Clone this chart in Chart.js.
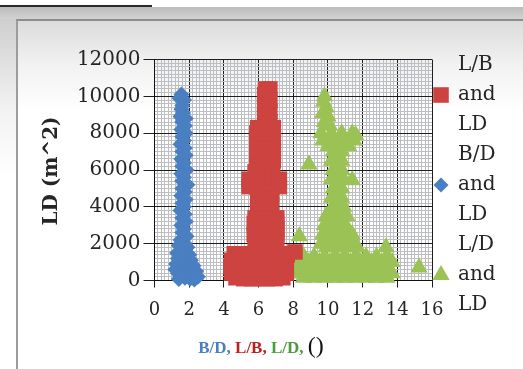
<!DOCTYPE html>
<html>
<head>
<meta charset="utf-8">
<script src="https://cdn.jsdelivr.net/npm/chart.js@4/dist/chart.umd.min.js"></script>
<style>
  html, body { margin: 0; padding: 0; width: 523px; height: 369px; overflow: hidden; background: #fff; position: relative; }
  #band  { position: absolute; left: 0; top: 7px; width: 523px; height: 12px; background: linear-gradient(#bcbcbc, #d2d2d2); }
  #rule  { position: absolute; left: 0; top: 5px; width: 152px; height: 2px; background: #2a2a2a; }
  #side  { position: absolute; left: 0; top: 19px; width: 16px; height: 350px; background: linear-gradient(#cfcfcf, #f2f2f2 90px, #fff 160px); }
  #frame { position: absolute; left: 16px; top: 19px; width: 520px; height: 360px; border-left: 2px solid #9c9c9c; border-top: 2px solid #8c8c8c; background: linear-gradient(#dcdcdc, #f2f2f2 45px, #fff 90px); }
  canvas { position: absolute; left: 0; top: 0; }
</style>
</head>
<body>
<div id="band"></div><div id="rule"></div><div id="side"></div><div id="frame"></div>
<canvas id="c" width="523" height="369"></canvas>
<script>
// L/B ratio against LD
const lbX = [6.4, 6.65, 6.35, 6.6, 6.4, 6.65, 6.35, 6.6, 6.4, 6.65, 6.35, 6.6, 6.4, 6.65,
             5.95, 6.4, 6.85, 5.9, 6.35, 6.8, 5.95, 6.4, 6.85, 5.9, 6.35, 6.8, 5.95, 6.4, 6.85,
             5.9, 6.35, 6.8, 5.95, 6.4, 6.85, 5.9, 6.35, 6.8, 5.8, 6.3, 6.8,
             5.45, 5.9, 6.35, 6.8, 7.2, 5.45, 5.9, 6.35, 6.8, 7.2,
             6.0, 6.4, 6.75, 5.95, 6.35, 6.7, 6.0, 6.4, 6.75, 5.95, 6.35, 6.7,
             5.8, 6.25, 6.7, 7.05, 5.75, 6.2, 6.65, 7.05, 5.8, 6.25, 6.7, 7.05, 5.75, 6.2, 6.65, 7.05, 5.8, 6.25, 6.7, 7.05,
             4.6, 5.05, 5.5, 5.95, 6.4, 6.85, 7.3, 7.65,
             4.45, 4.9, 5.35, 5.8, 6.25, 6.7, 7.15, 7.6,
             4.4, 4.85, 5.3, 5.75, 6.2, 6.65, 7.1, 7.55,
             4.45, 4.9, 5.35, 5.8, 6.25, 6.7, 7.15, 7.6,
             4.7, 5.15, 5.6, 6.05, 6.5, 6.95, 7.4, 8.1];
const lbY = [10400, 10400, 10100, 10100, 9800, 9800, 9500, 9500, 9200, 9200, 8900, 8900, 8600, 8600,
             8300, 8300, 8300, 8000, 8000, 8000, 7700, 7700, 7700, 7400, 7400, 7400, 7100, 7100, 7100,
             6800, 6800, 6800, 6500, 6500, 6500, 6200, 6200, 6200, 5900, 5900, 5900,
             5500, 5500, 5500, 5500, 5500, 5100, 5100, 5100, 5100, 5100,
             4700, 4700, 4700, 4400, 4400, 4400, 4100, 4100, 4100, 3800, 3800, 3800,
             3400, 3400, 3400, 3400, 3100, 3100, 3100, 3100, 2800, 2800, 2800, 2800, 2500, 2500, 2500, 2500, 2200, 2200, 2200, 2200,
             1450, 1450, 1450, 1450, 1450, 1450, 1450, 1400,
             1100, 1100, 1100, 1100, 1100, 1100, 1100, 1100,
             750, 750, 750, 750, 750, 750, 750, 750,
             400, 400, 400, 400, 400, 400, 400, 400,
             150, 100, 100, 100, 100, 100, 150, 1550];

// B/D ratio against LD
const bdX = [1.55, 1.45, 1.7, 1.6, 1.55, 1.65, 1.5, 1.8, 1.6, 1.75, 1.55, 1.8, 1.6, 1.7, 1.5, 1.75, 1.6, 1.8, 1.55, 1.7,
             1.6, 1.85, 1.55, 1.7, 1.6, 1.9, 1.6, 1.75, 1.55, 1.8, 1.6, 1.7, 1.5, 1.75, 1.6, 1.8, 1.55, 1.7, 1.6, 1.85,
             1.5, 1.75, 1.4, 1.9, 1.55, 1.3, 2.0, 1.7, 1.35, 2.1, 1.6, 1.25, 1.9, 2.25, 1.5, 1.2, 2.0, 2.4, 1.7, 1.35,
             2.2, 1.9, 1.5, 2.5, 1.75, 2.05, 1.4, 2.3];
const bdY = [10100, 9900, 9800, 9500, 9300, 9100, 8900, 8800, 8600, 8400, 8200, 8000, 7800, 7600, 7400, 7200, 7000, 6800, 6600, 6400,
             6200, 6000, 5800, 5600, 5400, 5200, 5000, 4800, 4600, 4400, 4200, 4000, 3800, 3600, 3400, 3200, 3000, 2800, 2600, 2400,
             2200, 2000, 1900, 1800, 1600, 1500, 1400, 1300, 1200, 1100, 1000, 900, 850, 800, 700, 600, 600, 500, 450, 400,
             300, 300, 250, 200, 150, 100, 80, 50];

// L/D ratio against LD
const ldX = [9.8, 9.75, 9.9, 9.7, 10.0, 9.8, 10.1,
             9.6, 10.2, 10.8, 11.4, 9.7, 10.3, 10.9, 11.5, 10.0, 10.6, 11.2, 11.6,
             10.3, 10.8, 10.4, 10.2, 10.8, 8.9, 10.5, 10.3, 10.8, 10.5, 10.2, 10.9, 11.4, 10.5, 10.3, 10.8, 10.5,
             10.2, 10.8, 10.5, 10.3, 10.9, 10.1, 10.6, 9.9, 10.5, 11.1, 10.2, 10.8,
             9.8, 10.4, 11.0, 10.0, 10.6, 11.2, 9.7, 10.3, 10.9, 11.4, 9.9, 10.5, 11.1, 8.35,
             9.6, 10.2, 10.8, 11.4, 9.9, 10.5, 11.1, 11.7, 13.35,
             8.0, 8.6, 9.2, 9.8, 10.4, 11.0, 11.6, 12.2, 12.8, 13.4,
             7.7, 8.3, 8.9, 9.5, 10.1, 10.7, 11.3, 11.9, 12.5, 13.1, 13.7,
             8.0, 8.6, 9.2, 9.8, 10.4, 11.0, 11.6, 12.2, 12.8, 13.4, 15.25,
             7.7, 8.3, 8.9, 9.5, 10.1, 10.7, 11.3, 11.9, 12.5, 13.1, 13.7,
             8.6, 9.2, 9.8, 10.4, 11.0, 11.6, 12.2, 12.8, 13.4];
const ldY = [10000, 9700, 9400, 9100, 8900, 8600, 8400,
             8000, 8000, 8000, 8000, 7600, 7600, 7600, 7600, 7300, 7300, 7300, 7900,
             7000, 7000, 6700, 6500, 6500, 6300, 6200, 6000, 6000, 5700, 5500, 5500, 5450, 5200, 5000, 5000, 4700,
             4500, 4500, 4200, 4000, 4000, 3700, 3700, 3500, 3500, 3500, 3200, 3200,
             3000, 3000, 3000, 2700, 2700, 2700, 2500, 2500, 2500, 2500, 2200, 2200, 2200, 2400,
             2000, 2000, 2000, 2000, 1800, 1800, 1800, 1800, 1800,
             1300, 1300, 1300, 1300, 1300, 1300, 1300, 1300, 1300, 1300,
             1000, 1000, 1000, 1000, 1000, 1000, 1000, 1000, 1000, 1000, 1000,
             700, 700, 700, 700, 700, 700, 700, 700, 700, 700, 700,
             400, 400, 400, 400, 400, 400, 400, 400, 400, 400, 400,
             150, 150, 150, 150, 150, 150, 150, 150, 150];

const xMajor = 2, xMinor = 0.2, xMax = 16;
const yMajor = 2000, yMinor = 200, yMax = 12000;

const RED = '#cc4340', BLUE = '#4a7fc1', GREEN = '#9bc255';
const TEXT = '#252525';

const pts = (xs, ys) => xs.map((x, i) => ({ x, y: ys[i] }));
const isMajor = (v, step) => Math.abs(v / step - Math.round(v / step)) < 1e-6;

// Draw a marker in the same shapes the datasets use
function marker(ctx, style, r, x, y, color) {
  ctx.save();
  ctx.fillStyle = color;
  ctx.beginPath();
  if (style === 'rect') {
    const s = r * Math.SQRT1_2;
    ctx.rect(x - s, y - s, 2 * s, 2 * s);
  } else if (style === 'rectRot') {
    ctx.moveTo(x, y - r); ctx.lineTo(x + r, y); ctx.lineTo(x, y + r); ctx.lineTo(x - r, y); ctx.closePath();
  } else {
    ctx.moveTo(x, y - r);
    ctx.lineTo(x + r * Math.sin(Math.PI * 2 / 3), y - r * Math.cos(Math.PI * 2 / 3));
    ctx.lineTo(x - r * Math.sin(Math.PI * 2 / 3), y - r * Math.cos(Math.PI * 2 / 3));
    ctx.closePath();
  }
  ctx.fill();
  ctx.restore();
}

const legendItems = [
  { lines: ['L/B', 'and', 'LD'], style: 'rect', r: 11, color: RED },
  { lines: ['B/D', 'and', 'LD'], style: 'rectRot', r: 7.5, color: BLUE },
  { lines: ['L/D', 'and', 'LD'], style: 'triangle', r: 10, color: GREEN }
];

const titleParts = [
  { text: 'B/D, ', color: BLUE, font: 'bold 17px "Liberation Serif"' },
  { text: 'L/B, ', color: '#c0211f', font: 'bold 17px "Liberation Serif"' },
  { text: 'L/D, ', color: '#4f9a3c', font: 'bold 17px "Liberation Serif"' },
  { text: '()', color: '#111', font: '24px "Liberation Serif"' }
];

const decorations = {
  id: 'decorations',
  afterDraw(chart) {
    const ctx = chart.ctx;
    ctx.save();
    // y axis title
    ctx.translate(57, 171);
    ctx.rotate(-Math.PI / 2);
    ctx.font = 'bold 20px "DejaVu Serif"';
    ctx.fillStyle = TEXT;
    ctx.textAlign = 'center';
    ctx.textBaseline = 'alphabetic';
    ctx.fillText('LD (m^2)', 0, 0);
    ctx.restore();

    // multi-coloured x axis title
    ctx.save();
    ctx.textBaseline = 'alphabetic';
    let total = 0;
    titleParts.forEach(p => { ctx.font = p.font; total += ctx.measureText(p.text).width; });
    let x = 261 - total / 2;
    titleParts.forEach(p => {
      ctx.font = p.font;
      ctx.fillStyle = p.color;
      ctx.fillText(p.text, x, 353);
      x += ctx.measureText(p.text).width;
    });
    ctx.restore();

    // legend
    ctx.save();
    ctx.font = '20px "DejaVu Serif"';
    ctx.fillStyle = TEXT;
    ctx.textBaseline = 'middle';
    ctx.textAlign = 'left';
    const lineH = 30, top = 65;
    legendItems.forEach((item, i) => {
      item.lines.forEach((t, j) => {
        ctx.fillText(t, 458, top + (i * 3 + j) * lineH);
      });
      marker(ctx, item.style, item.r, 441, top + (i * 3 + 1) * lineH, item.color);
    });
    ctx.restore();
  }
};

new Chart(document.getElementById('c'), {
  type: 'scatter',
  data: {
    datasets: [
      { label: 'L/B and LD', data: pts(lbX, lbY), pointStyle: 'rect', pointRadius: 11, backgroundColor: RED, borderWidth: 0 },
      { label: 'B/D and LD', data: pts(bdX, bdY), pointStyle: 'rectRot', pointRadius: 8, backgroundColor: BLUE, borderWidth: 0 },
      { label: 'L/D and LD', data: pts(ldX, ldY), pointStyle: 'triangle', pointRadius: 10, backgroundColor: GREEN, borderWidth: 0 }
    ]
  },
  options: {
    responsive: false,
    animation: false,
    clip: false,
    events: [],
    layout: { padding: { left: 0, top: 59.5, right: 91, bottom: 0 } },
    plugins: { legend: { display: false }, tooltip: { enabled: false } },
    scales: {
      x: {
        type: 'linear', min: 0, max: xMax,
        afterFit: s => { s.height = 88.5; },
        border: { color: '#111', width: 1 },
        grid: {
          color: c => isMajor(c.tick.value, xMajor) ? '#1e1e1e' : '#bdbdc4',
          tickColor: c => isMajor(c.tick.value, xMajor) ? '#1e1e1e' : 'rgba(0,0,0,0)',
          tickLength: 7
        },
        ticks: {
          stepSize: xMinor, autoSkip: false, maxRotation: 0, maxTicksLimit: 1000,
          padding: 12, color: TEXT, font: { family: 'DejaVu Serif', size: 18 },
          callback: v => isMajor(v, xMajor) ? String(Math.round(v)) : ''
        }
      },
      y: {
        type: 'linear', min: 0, max: yMax,
        afterFit: s => { s.width = 154.5; },
        border: { color: '#111', width: 1 },
        grid: {
          color: c => isMajor(c.tick.value, yMajor) ? '#1e1e1e' : '#bdbdc4',
          tickColor: c => isMajor(c.tick.value, yMajor) ? '#1e1e1e' : 'rgba(0,0,0,0)',
          tickLength: 11
        },
        ticks: {
          stepSize: yMinor, autoSkip: false, maxTicksLimit: 1000,
          padding: 3, color: TEXT, font: { family: 'DejaVu Serif', size: 20 },
          callback: v => isMajor(v, yMajor) ? String(Math.round(v)) : ''
        }
      }
    }
  },
  plugins: [decorations]
});
</script>
</body>
</html>
